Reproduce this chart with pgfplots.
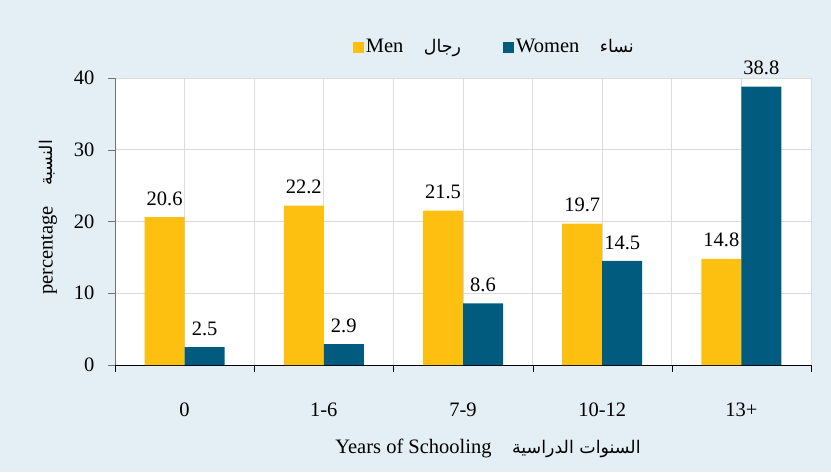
\documentclass[border=0pt]{standalone}
\usepackage{pgfplots}
\pgfplotsset{compat=1.18}
\usepackage{fontspec}
\setmainfont{Liberation Serif}
\newfontfamily\arabicfont[Script=Arabic,Scale=0.85]{DejaVu Sans}
\TeXXeTstate=1
\definecolor{bg}{HTML}{E3EEF5}
\definecolor{menc}{HTML}{FDC010}
\definecolor{womenc}{HTML}{005B7F}
\definecolor{gridc}{HTML}{DCDCDC}
\begin{document}
\begin{tikzpicture}[font=\fontsize{20.5}{24}\selectfont]
\fill[bg] (-115pt,-107pt) rectangle (716pt,365pt);
\useasboundingbox (-115pt,-107pt) rectangle (716pt,365pt);
\begin{axis}[
  at={(0pt,0pt)}, anchor=south west,
  scale only axis, width=696pt, height=287pt,
  axis background/.style={fill=white},
  xmin=-0.5, xmax=4.5, ymin=0, ymax=40,
  ybar=0pt, bar width=40pt,
  xtick={-0.5,0.5,1.5,2.5,3.5,4.5}, xticklabels={},
  extra x ticks={0,1,2,3,4},
  extra x tick labels={0,1-6,7-9,10-12,13+},
  extra x tick style={major tick length=0pt, grid=major},
  ytick={0,10,20,30,40},
  tick align=outside, major tick length=7pt,
  axis x line*=bottom, axis y line*=left,
  axis line style={-},
  x axis line style={black},
  y axis line style={gray!90!black},
  ytick style={gray!90!black},
  xtick style={black},
  grid=major, grid style={gridc, line width=0.8pt},
  /pgf/number format/assume math mode=true,
  xticklabel style={yshift=-17pt},
  extra x tick style={xticklabel style={yshift=-17pt}},
  yticklabel style={xshift=-10pt},
  xlabel={Years of Schooling\quad{\arabicfont\beginR السنوات الدراسية\endR}},
  xlabel style={yshift=-9pt, xshift=25pt},
  ylabel={percentage\quad{\arabicfont\beginR النسبة\endR}},
  ylabel style={yshift=10pt, xshift=4pt},
  nodes near coords={\pgfmathprintnumber[fixed, precision=1, fixed zerofill, assume math mode=true]{\pgfplotspointmeta}},
  every node near coord/.append style={yshift=8pt, black},
  legend style={at={(0.545,1.108)}, anchor=center, legend columns=2, draw=none, fill=none,
    /tikz/every even column/.append style={column sep=40pt}},
  legend image code/.code={\fill[#1] (0pt,-5.5pt) rectangle (11pt,5.5pt);},
]
\addplot[fill=menc, draw=none] coordinates {(0,20.6) (1,22.2) (2,21.5) (3,19.7) (4,14.8)};
\addplot[fill=womenc, draw=none] coordinates {(0,2.5) (1,2.9) (2,8.6) (3,14.5) (4,38.8)};
\legend{Men\quad{\arabicfont\beginR رجال\endR}, Women\quad{\arabicfont\beginR نساء\endR}}
\end{axis}
\end{tikzpicture}
\end{document}
